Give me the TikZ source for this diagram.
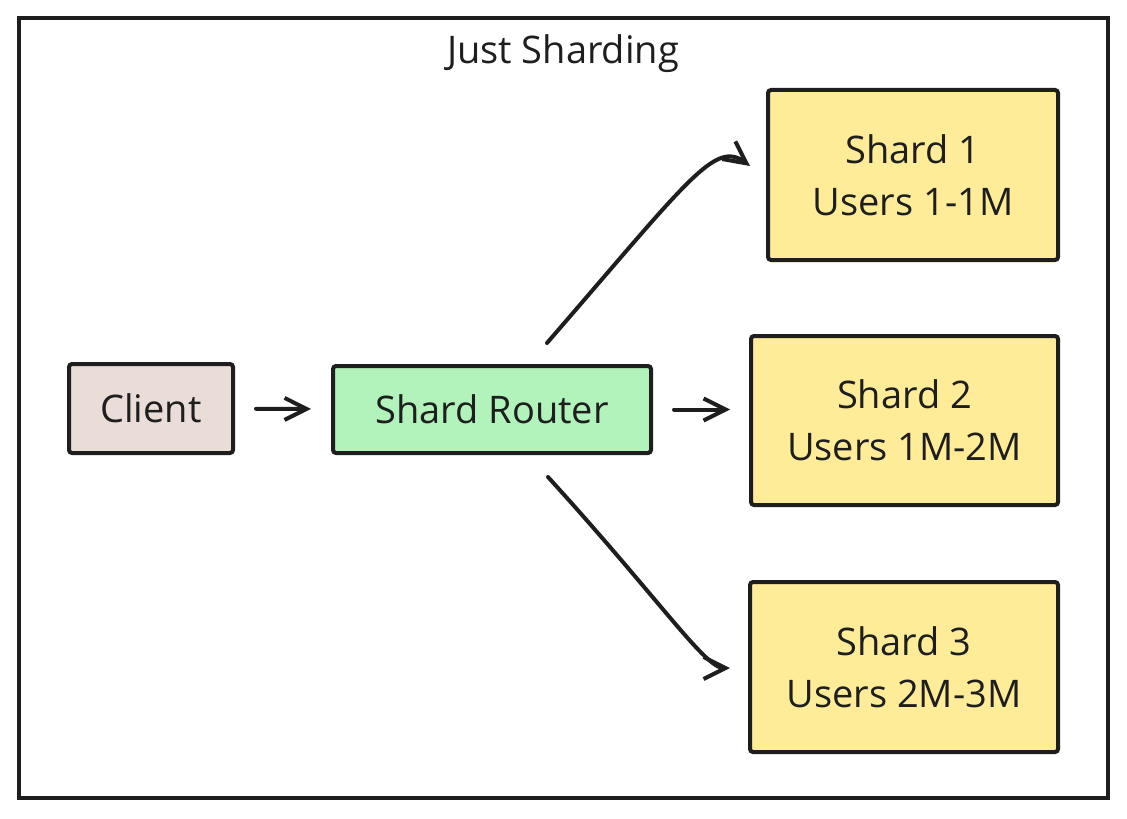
\documentclass[tikz,border=0pt]{standalone}
\usepackage{fontspec}
\setmainfont{Open Sans}
\usetikzlibrary{arrows.meta}
\definecolor{ink}{HTML}{1E1E1E}
\definecolor{clientfill}{HTML}{EADDD7}
\definecolor{routerfill}{HTML}{B2F2BB}
\definecolor{shardfill}{HTML}{FFEC99}

\begin{document}
\begin{tikzpicture}[x=0.5pt, y=-0.5pt, >={Straight Barb[length=11pt,width=11pt]},
  box/.style={draw=ink, line width=2pt, rounded corners=1.5pt, text=ink,
    font=\fontsize{19}{26}\selectfont, align=center, inner sep=0pt},
  link/.style={->, draw=ink, line width=2pt, line cap=round}]
  \useasboundingbox (0,0) rectangle (1127,818);
  \draw[ink, line width=1.6pt] (19,18) rectangle (1108,798);
  \node[text=ink, font=\fontsize{19}{26}\selectfont] (title) at (563,54) {Just Sharding};

  \node[box, fill=clientfill, minimum width=82pt, minimum height=44.5pt] (client) at (151,408.5) {Client};
  \node[box, fill=routerfill, minimum width=159pt, minimum height=43.5pt] (router) at (492,409.5) {Shard Router};
  \node[box, fill=shardfill, minimum width=145pt, minimum height=85pt] (shard1) at (913,175) {Shard 1\\Users 1-1M};
  \node[box, fill=shardfill, minimum width=153.5pt, minimum height=84.5pt] (shard2) at (904.5,420.5) {Shard 2\\Users 1M-2M};
  \node[box, fill=shardfill, minimum width=154pt, minimum height=85pt] (shard3) at (904,667) {Shard 3\\Users 2M-3M};

  \coordinate (up) at (547,343);
  \coordinate (upend) at (750,166);
  \coordinate (down) at (548,477);
  \coordinate (downend) at (730,668);

  \draw[link, shorten <=10.5pt, shorten >=10pt] (client) -- (router);
  \draw[link, shorten <=10.5pt, shorten >=9.5pt] (router.east) -- (router.east -| shard2.west);
  \draw[link] (up) .. controls (690,178) and (715,140) .. (upend);
  \draw[link] (down) .. controls (660,600) and (705,668) .. (downend);
\end{tikzpicture}
\end{document}
